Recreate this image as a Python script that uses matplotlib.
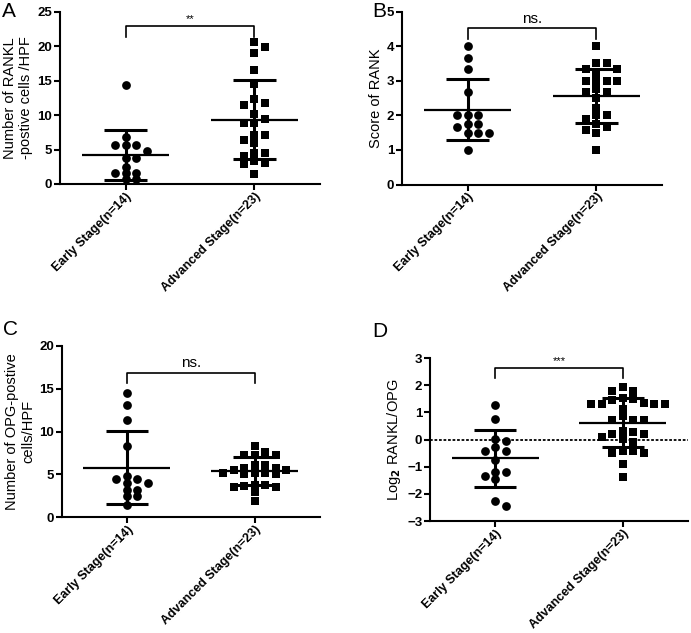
import matplotlib
matplotlib.use('Agg')
import matplotlib.pyplot as plt
import numpy as np

plt.rcParams['font.family'] = ['Liberation Sans', 'DejaVu Sans']
plt.rcParams['font.weight'] = 'bold'

# 그룹 라벨
groups = ['Early Stage(n=14)', 'Advanced Stage(n=23)']

# A: RANKL
rankl_early = [14.4, 6.8, 5.6, 5.6, 5.6, 4.8, 3.8, 3.8, 2.5, 1.6, 1.6, 1.6, 0.7, 0.7]
rankl_adv = [20.6, 19.9, 19.0, 16.5, 14.5, 12.3, 11.8, 11.5, 10.2, 9.4, 8.9, 8.9,
             7.1, 7.1, 6.4, 6.0, 4.5, 4.5, 4.1, 3.4, 3.1, 2.9, 1.5]
rankl_mean = [4.2, 9.35]
rankl_sd = [3.6, 5.75]

# B: RANK score
rank_early = [4.0, 3.67, 3.33, 2.67, 2.0, 2.0, 2.0, 1.75, 1.75, 1.67, 1.5, 1.5, 1.5, 1.0]
rank_adv = [4.0, 3.5, 3.5, 3.33, 3.33, 3.2, 3.0, 3.0, 3.0, 3.0, 2.75, 2.67, 2.67,
            2.5, 2.2, 2.0, 2.0, 1.9, 1.75, 1.67, 1.57, 1.5, 1.0]
rank_mean = [2.17, 2.56]
rank_sd = [0.88, 0.78]

# C: OPG
opg_early = [14.5, 13.1, 11.3, 8.35, 4.8, 4.4, 4.4, 4.0, 4.0, 3.2, 3.2, 2.4, 2.4, 1.4]
opg_adv = [8.3, 7.6, 7.3, 7.2, 7.2, 6.05, 6.05, 5.75, 5.75, 5.45, 5.45, 5.2, 5.2,
           5.1, 5.0, 5.0, 3.7, 3.7, 3.6, 3.55, 3.55, 2.95, 1.85]
opg_mean = [5.75, 5.35]
opg_sd = [4.27, 1.65]

# D: log2 RANKL/OPG
ratio_early = [1.27, 0.77, 0.02, -0.05, -0.28, -0.41, -0.41, -0.77, -1.18, -1.18,
               -1.35, -1.44, -2.27, -2.43]
ratio_adv = [1.94, 1.78, 1.78, 1.51, 1.49, 1.45, 1.36, 1.30, 1.30, 1.30, 1.30, 1.12,
             0.87, 0.73, 0.73, 0.73, 0.30, 0.28, 0.22, 0.22, 0.10, 0.02, -0.09,
             -0.42, -0.42, -0.50, -0.50, -0.89, -1.38]
ratio_mean = [-0.69, 0.61]
ratio_sd = [1.05, 0.9]


def swarm(vals, ythr, step):
    # 같은 높이의 점들을 옆으로 펼침
    placed = []
    xs = []
    cands = sorted(range(-12, 13), key=lambda k: (abs(k), -k))
    for v in vals:
        for k in cands:
            x = k * step / 2
            if all(abs(x - px) >= step * 0.98 or abs(v - pv) >= ythr for px, pv in placed):
                break
        placed.append((x, v))
        xs.append(x)
    return np.array(xs)


def panel(rect, early, adv, means, sds, ylim, yticks, ylabel, sig, sig_y, sig_fs):
    ax = fig.add_axes(rect)
    yr = ylim[1] - ylim[0]
    for i, (vals, mk, ms) in enumerate([(early, 'o', 6.3), (adv, 's', 5.6)]):
        xs = i + swarm(vals, 0.036 * yr, 0.082)
        ax.plot(xs, vals, linestyle='none', marker=mk, color='black', markersize=ms,
                markeredgewidth=0, zorder=3)
        ax.hlines(means[i], i - 0.34, i + 0.34, color='black', lw=1.6, zorder=4)
        ax.vlines(i, means[i] - sds[i], means[i] + sds[i], color='black', lw=2.2, zorder=4)
        ax.hlines([means[i] - sds[i], means[i] + sds[i]], i - 0.165, i + 0.165,
                  color='black', lw=2.2, zorder=4)
    # 유의성 표시
    ax.plot([0, 0, 1, 1], [sig_y - 0.06 * yr, sig_y, sig_y, sig_y - 0.06 * yr],
            color='black', lw=1.2)
    ax.text(0.5, sig_y + 0.015 * yr, sig, ha='center', va='bottom', fontsize=sig_fs,
            fontweight='normal')
    ax.set_xlim(-0.51, 1.51)
    ax.set_ylim(*ylim)
    ax.set_yticks(yticks)
    ax.set_xticks([0, 1])
    ax.set_xticklabels(groups, rotation=45, ha='right', rotation_mode='anchor',
                       fontsize=9)
    ax.tick_params(axis='y', labelsize=9.5)
    ax.set_ylabel(ylabel, fontsize=10.5, labelpad=3)
    for s in ['top', 'right']:
        ax.spines[s].set_visible(False)
    for s in ['left', 'bottom']:
        ax.spines[s].set_linewidth(1.5)
    ax.tick_params(width=1.5, length=4, pad=1.5)
    ax.tick_params(axis='x', pad=0.5)
    return ax


fig = plt.figure(figsize=(6.91, 6.33), dpi=100)
W, H = 691, 633

panel([60 / W, 1 - 184 / H, 260 / W, 172 / H], rankl_early, rankl_adv, rankl_mean,
      rankl_sd, (0, 25), range(0, 26, 5), 'Number of RANKL\n-postive cells /HPF',
      '**', 22.9, 8)
panel([402 / W, 1 - 184.6 / H, 260 / W, 173 / H], rank_early, rank_adv, rank_mean,
      rank_sd, (0, 5), range(0, 6), 'Score of RANK', 'ns.', 4.52, 11)
panel([61.7 / W, 1 - 517 / H, 258 / W, 171 / H], opg_early, opg_adv, opg_mean,
      opg_sd, (0, 20), range(0, 21, 5), 'Number of OPG-postive\ncells/HPF',
      'ns.', 16.9, 11)
axd = panel([430 / W, 1 - 521 / H, 258 / W, 163 / H], ratio_early, ratio_adv,
            ratio_mean, ratio_sd, (-3, 3), range(-3, 4), 'Log$_2$ RANKL/OPG',
            '***', 2.62, 8)
axd.axhline(0, color='black', lw=1.3, linestyle=(0, (1.5, 1)), zorder=2)

for lt, x, y in [('A', 2, 2), ('B', 372, 2), ('C', 3, 320), ('D', 372, 322)]:
    fig.text(x / W, 1 - y / H, lt, fontsize=15, va='top', ha='left', fontweight='normal')

fig.savefig('out.png', dpi=100)
